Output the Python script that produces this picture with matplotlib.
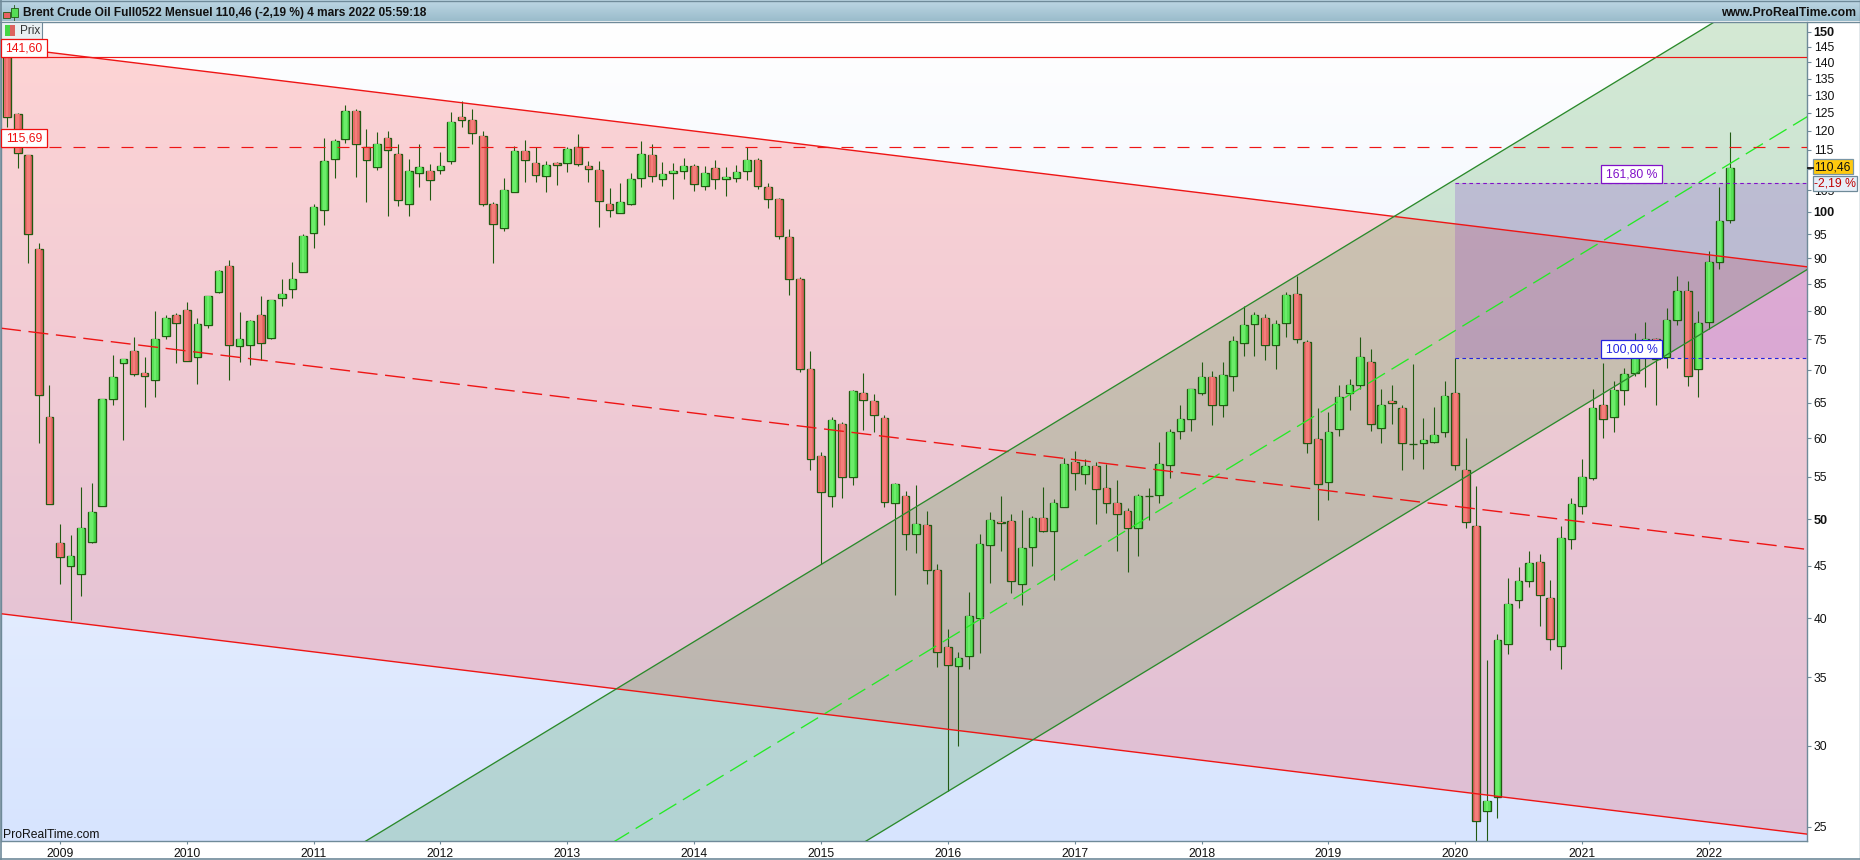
import numpy as np
import matplotlib
matplotlib.use('Agg')
import matplotlib.pyplot as plt
from matplotlib.patches import Polygon, Rectangle
from matplotlib.ticker import FixedLocator, FixedFormatter, NullLocator

plt.rcParams['font.family'] = ['Liberation Sans', 'DejaVu Sans']
plt.rcParams['lines.scale_dashes'] = False

# Monthly candles, first one is Aug 2008, last one Mar 2022
opens = [
    142, 124.6, 113.6, 92, 62.9, 47.4, 45, 44.2, 47.5, 51.5, 65.5, 71.1,
    73, 69.5, 68.4, 75.5, 79.3, 80.1, 72, 77.4, 83.5, 88.4, 73.8, 74,
    79.2, 75.3, 82.4, 84, 87.2, 95.4, 100.3, 112.6, 117.7, 125.4, 115.8, 110.5,
    118, 114, 101.7, 109, 109.5, 109.8, 112, 123.7, 123, 118.7, 101.8, 96.4,
    104.5, 114.6, 111.5, 108.4, 111.5, 111.5, 115.6, 110.8, 109.8, 101.7, 99.8, 101.8,
    107.8, 113.6, 107.6, 109, 109.5, 110.8, 105.9, 110.3, 107.6, 107.8, 109.5, 112.3,
    105.6, 103, 94.4, 85.9, 70.1, 57.7, 52.7, 62, 55, 66.5, 65.3, 62.8,
    51.9, 52.7, 48.4, 49.4, 44.6, 37.5, 35.9, 36.7, 40, 47.2, 49.7, 49.8,
    43.2, 47, 50.1, 48.7, 51.4, 56.9, 55.4, 56.4, 53.6, 51.8, 50.9, 49,
    52.7, 52.8, 56.5, 61, 62.7, 66.5, 68.9, 64.6, 69.1, 74.4, 77.6, 78.7,
    74.1, 77.8, 83, 74.6, 59.9, 54.4, 61.3, 66.5, 67.6, 71.3, 61.4, 65.2,
    64.3, 59.25, 59.4, 59.5, 60.8, 66.5, 55.8, 49.2, 25.9, 26.7, 37.7, 41.7,
    43.5, 45.4, 41.9, 37.6, 47.8, 51.5, 54.9, 64.7, 63, 66.9, 69.5, 72,
    75.1, 72, 78.4, 83.6, 70.1, 78, 89.3, 98.1,
]
highs = [
    143, 125, 113.6, 93.2, 67.7, 49.5, 48.2, 53.7, 54.2, 65.5, 72.4, 71.7,
    75.4, 72, 80, 79.2, 79.5, 81.5, 78.7, 82.7, 87.7, 89.6, 79.7, 78.4,
    82.7, 82, 85.9, 89.2, 95, 101.7, 118, 117.7, 127.2, 126, 120.6, 119.6,
    120, 116.4, 112.5, 116.4, 111.3, 114.3, 125.3, 128.4, 126, 120, 102.3, 108,
    116, 117.4, 115.8, 112, 111.8, 115.8, 119, 112, 112, 105.4, 106.6, 109,
    117.2, 116.4, 111.9, 111.6, 112.9, 111.3, 110.9, 112.3, 110.6, 111.1, 115.6, 112.8,
    106.6, 103.2, 96.1, 86.3, 73.1, 58.2, 63, 62.2, 66.9, 69.5, 66.3, 63.2,
    54.2, 53.3, 54, 50.9, 45.2, 39, 37.1, 42.4, 48.3, 50.8, 52.7, 50.6,
    51, 50.4, 53.7, 52.3, 57.4, 58.3, 57.3, 56.9, 56.6, 54.6, 51.3, 52.9,
    53.6, 59.5, 61.2, 64.7, 67.1, 71.3, 69.9, 71.2, 75.5, 80.9, 79.7, 79.4,
    78.4, 83.5, 86.5, 74.9, 64.2, 63.6, 67.6, 68.6, 75.4, 73.3, 67, 67.6,
    64.6, 71, 62.8, 64.4, 68.2, 71.9, 60, 53.9, 36.4, 38.6, 43.8, 44.9,
    46.5, 46.2, 43.6, 49.2, 52.4, 57.2, 67, 71.1, 68.3, 70.3, 76.1, 78,
    75.3, 80.5, 86.5, 85.5, 79.9, 91.5, 105.7, 119.8,
]
lows = [
    121.1, 110.4, 89, 59.4, 51.7, 43.2, 39.8, 42, 47.4, 51.5, 64.7, 59.7,
    69.1, 64.4, 65.8, 75.1, 71.1, 71.4, 67.8, 76.9, 83.3, 68.4, 71.3, 70.8,
    71.5, 75.1, 80.9, 82.4, 87.2, 92.2, 97, 108, 116.8, 108.2, 102.3, 109.9,
    99, 101.3, 99, 105.6, 102.7, 108.9, 111.3, 121, 116.5, 101.2, 89, 95.7,
    104.5, 107, 106.8, 104.6, 106.2, 109.4, 110.8, 106.8, 96.7, 98.7, 99.6, 101.6,
    105.6, 107, 106, 102.8, 107.7, 104.8, 105.1, 105.3, 103.7, 106.8, 107.4, 105.3,
    100.9, 94, 82.8, 69.7, 55.8, 45.2, 51.4, 52.5, 54, 61.1, 60.8, 51.4,
    42.1, 46.6, 46.3, 43.2, 35.8, 27.1, 30, 35.7, 37, 43.3, 46.5, 42.3,
    41.2, 45, 48.6, 43.6, 51.4, 53.4, 54.1, 49.5, 50.7, 46.5, 44.4, 46,
    49.9, 51.8, 54.9, 59.9, 61, 66.2, 61.8, 63, 66.8, 72.2, 72.2, 71.5,
    70.2, 75.4, 74.4, 58, 49.9, 52.2, 60.3, 63.9, 67, 61, 59.4, 62,
    55.8, 57.2, 56, 59.4, 60.2, 55.8, 49, 21.6, 21, 25.5, 36.9, 40.9,
    42.9, 39.3, 37.2, 35.7, 46.7, 50.6, 54.6, 60.1, 60.9, 64.6, 69, 67.3,
    64.7, 70.3, 77.5, 67.5, 65.8, 76.7, 87.8, 97.5,
]
closes = [
    123.9, 114.2, 95, 66.1, 51.7, 45.9, 46, 49, 50.8, 65.5, 68.9, 71.7,
    69.3, 69, 75.1, 78.6, 77.8, 71.4, 77.6, 82.7, 87.4, 74, 75, 78.1,
    74.4, 82, 83, 85.9, 94.7, 101, 112, 117.2, 125.6, 116.6, 112.3, 116.4,
    114.8, 102.6, 109.5, 110.5, 107.3, 110.8, 122.3, 123, 119.3, 101.8, 97.2, 104.9,
    114.6, 112.3, 108.6, 111, 111, 115.3, 111.3, 110, 102.4, 100.3, 102.3, 107.6,
    113.8, 108.3, 108.8, 109.5, 110.8, 106.4, 109, 107.6, 108.1, 109.3, 112.3, 105.9,
    103, 94.6, 85.9, 70.1, 57.3, 53.2, 62.5, 55, 66.7, 65.4, 63.3, 52,
    54.1, 48.4, 49.5, 44.6, 37.1, 36, 36.6, 40.2, 47.3, 49.9, 49.6, 43.5,
    46.8, 50.1, 48.7, 51.8, 56.6, 55.5, 56.4, 53.5, 51.9, 50.6, 49, 52.7,
    52.7, 56.6, 60.8, 62.7, 67, 68.9, 64.6, 69.2, 74.7, 77.5, 79.3, 74.1,
    77.6, 82.9, 75, 59.4, 54.1, 60.8, 65.9, 67.6, 72, 61.9, 64.7, 64.9,
    59.3, 59.2, 59.7, 60.5, 66, 56.5, 49.7, 25.3, 26.5, 38.1, 41.3, 43.5,
    45.3, 42.1, 38.2, 47.9, 51.7, 55, 64.2, 62.6, 66.9, 69.4, 73, 75.1,
    71.8, 78.4, 83.6, 69.1, 77.8, 89.3, 97.9, 110.46,
]

year_labels = list(range(2009, 2023))
year_index = [5 + 12 * k for k in range(len(year_labels))]
price_ticks = [25, 30, 35, 40, 45, 50, 55, 60, 65, 70, 75, 80, 85, 90, 95,
               100, 105, 110, 115, 120, 125, 130, 135, 140, 145, 150]
bold_ticks = [50, 100, 150]
hidden_ticks = [110]  # sits under the last price tag

# Drawn objects, as (bar index, price)
xmin, xmax = -0.577, 170.32
red_upper = [145.1, 88.3]
red_middle = [76.9, 46.7]
red_lower = [40.4, 24.58]
green_upper_x = [33.39, 170.32]
green_upper = [24.01, 174.2]
green_middle_x = [57.23, 170.32]
green_middle = [24.1, 123.9]
green_lower_x = [80.69, 170.32]
green_lower = [24.0, 87.8]
fibo_start = 137
fibo_100 = 71.85
fibo_161 = 106.6
level_high = 141.60
level_mid = 115.69

W, H = 1860, 860
LEFT, RIGHT, TOP, BOTTOM = 1, 1807.4, 21.7, 840.7
RED = '#ee1515'
GREEN = '#2b8a2b'
FRAME = '#6f8a99'
EDGE = '#215a12'


def pix_rect(l, t, r, b):
    return [l / W, 1 - b / H, (r - l) / W, (b - t) / H]


fig = plt.figure(figsize=(W / 100, H / 100), dpi=100, facecolor='white')

# plot background gradient sits in its own axes since the price axes is log
bg = fig.add_axes(pix_rect(LEFT, TOP, RIGHT, BOTTOM), zorder=0)
top_col = np.array([255, 255, 255]) / 255
bot_col = np.array([215, 228, 254]) / 255
grad = np.linspace(0, 1, 256)[:, None, None] * (bot_col - top_col) + top_col
bg.imshow(grad, aspect='auto', extent=(0, 1, 0, 1))
bg.axis('off')

ax = fig.add_axes(pix_rect(LEFT, TOP, RIGHT, BOTTOM), zorder=1, facecolor='none')
ax.set_yscale('log')
ax.set_xlim(xmin, xmax)
ax.set_ylim(24.22, 153.45)

# channels and fibonacci zone
ax.add_patch(Polygon([(xmin, red_upper[0]), (xmax, red_upper[1]),
                      (xmax, red_lower[1]), (xmin, red_lower[0])],
                     closed=True, facecolor=(1, 0, 0, 0.165), edgecolor='none', zorder=1))
ax.add_patch(Polygon([(green_upper_x[0], green_upper[0]), (green_upper_x[1], green_upper[1]),
                      (green_lower_x[1], green_lower[1]), (green_lower_x[0], green_lower[0])],
                     closed=True, facecolor=(0, 0.5, 0, 0.17), edgecolor='none', zorder=1))
ax.add_patch(Rectangle((fibo_start, fibo_100), xmax - fibo_start, fibo_161 - fibo_100,
                       facecolor=(0.5, 0.12, 0.82, 0.2), edgecolor='none', zorder=1))

# candles
idx = np.arange(len(opens))
o = np.array(opens)
c = np.array(closes)
up = c >= o
ax.vlines(idx, lows, highs, color=EDGE, linewidth=0.8, zorder=2)
body_low = np.minimum(o, c)
body_h = np.abs(c - o)
ax.bar(idx[up], body_h[up], bottom=body_low[up], width=0.73, color='#45d645',
       edgecolor=EDGE, linewidth=0.95, zorder=3)
ax.bar(idx[~up], body_h[~up], bottom=body_low[~up], width=0.73, color='#dc6260',
       edgecolor=EDGE, linewidth=0.95, zorder=3)
# lighter core of the bodies
for w, col_up, col_dn in [(0.5, '#58e058', '#e86c6a'), (0.26, '#6cec6a', '#f47e7a')]:
    ax.bar(idx[up], body_h[up], bottom=body_low[up], width=w, color=col_up, linewidth=0, zorder=3.1)
    ax.bar(idx[~up], body_h[~up], bottom=body_low[~up], width=w, color=col_dn, linewidth=0, zorder=3.1)

# lines above the candles
ax.plot([xmin, xmax], red_upper, color=RED, lw=1.0, zorder=4)
ax.plot([xmin, xmax], red_lower, color=RED, lw=1.0, zorder=4)
ax.plot([xmin, xmax], red_middle, color=RED, lw=1.0, ls=(0, (14.4, 5.5)), zorder=4)
ax.plot(green_upper_x, green_upper, color=GREEN, lw=0.95, zorder=4)
ax.plot(green_lower_x, green_lower, color=GREEN, lw=0.95, zorder=4)
ax.plot(green_middle_x, green_middle, color='#25ea25', lw=0.95, ls=(0, (14.4, 5.5)), zorder=4)
ax.plot([xmin, xmax], [level_high, level_high], color=RED, lw=0.85, zorder=4)
ax.plot([xmin, xmax], [level_mid, level_mid], color=RED, lw=0.85, ls=(0, (8.64, 8.64)), zorder=4)
ax.plot([fibo_start, xmax], [fibo_100, fibo_100], color='#2323e0', lw=0.8, ls=(0, (2.6, 2.4)), zorder=4)
ax.plot([fibo_start, xmax], [fibo_161, fibo_161], color='#8010c8', lw=0.8, ls=(0, (2.6, 2.4)), zorder=4)

# axes
ax.spines['top'].set_visible(False)
for side in ['left', 'right', 'bottom']:
    ax.spines[side].set_color(FRAME)
    ax.spines[side].set_linewidth(1.0)
ax.yaxis.tick_right()
ax.yaxis.set_major_locator(FixedLocator(price_ticks))
ax.yaxis.set_major_formatter(FixedFormatter(['' if t in hidden_ticks else str(t) for t in price_ticks]))
ax.yaxis.set_minor_locator(NullLocator())
ax.tick_params(axis='y', length=3, width=0.8, color=FRAME, pad=1.5, labelsize=8.7, labelcolor='#111111')
ax.set_xticks(year_index)
ax.set_xticklabels([str(y) for y in year_labels])
ax.tick_params(axis='x', length=2, width=0.8, color=FRAME, pad=3.2, labelsize=8.7, labelcolor='#111111')
for lab, t in zip(ax.get_yticklabels(), price_ticks):
    if t in bold_ticks:
        lab.set_fontweight('bold')
        lab.set_fontsize(9.2)

# window furniture, in pixels
ui = fig.add_axes([0, 0, 1, 1], zorder=2, facecolor='none')
head_top = np.array([190, 215, 229]) / 255
head_bot = np.array([154, 188, 203]) / 255
head = np.linspace(0, 1, 32)[:, None, None] * (head_bot - head_top) + head_top
ui.imshow(head, aspect='auto', extent=(0, W, 21, 0.5), zorder=1)
ui.set_xlim(0, W)
ui.set_ylim(H, 0)
ui.axis('off')
ui.plot([0, W], [0.5, 0.5], color=FRAME, lw=1)
ui.plot([0, W], [21.5, 21.5], color=FRAME, lw=1)
ui.plot([0.5, 0.5], [0, H], color=FRAME, lw=1.2)
ui.plot([0, W], [859, 859], color=FRAME, lw=1.2)
ui.plot([W - 0.5, W - 0.5], [0, H], color=FRAME, lw=1)

ui.add_patch(Rectangle((3, 11.5), 6.5, 6, fc='#e86060', ec='#215a12', lw=0.6, zorder=3))
ui.add_patch(Rectangle((11, 7.5), 6.5, 9.5, fc='#55dd55', ec='#215a12', lw=0.6, zorder=3))
ui.plot([14.3, 14.3], [4.5, 19.5], color='#215a12', lw=0.6, zorder=2)
ui.text(23, 12.6, 'Brent Crude Oil Full0522 Mensuel 110,46 (-2,19 %) 4 mars 2022 05:59:18',
        fontsize=8.6, fontweight='bold', color='#111111', ha='left', va='center', zorder=3)
ui.text(1856, 12.6, 'www.ProRealTime.com', fontsize=8.8, fontweight='bold', color='#111111',
        ha='right', va='center', zorder=3)

# Prix tab
ui.add_patch(Rectangle((1, 22), 41, 17, fc='#e9eff2', ec=FRAME, lw=0.8, zorder=5))
ui.add_patch(Rectangle((5, 25), 5, 11, fc='#45d645', ec='none', zorder=6))
ui.add_patch(Rectangle((10, 25), 5, 11, fc='#dc6260', ec='none', zorder=6))
ui.text(19.5, 30.8, 'Prix', fontsize=8.5, color='#333333', ha='left', va='center', zorder=6)


def tag(l, t, r, b, text, edge, fc='white', color=None, ha='center'):
    ui.add_patch(Rectangle((l, t), r - l, b - t, fc=fc, ec=edge, lw=0.9, zorder=5))
    ui.text((l + r) / 2, (t + b) / 2 + 0.4, text, fontsize=8.8, color=color or edge,
            ha=ha, va='center', zorder=6)


tag(1, 39.3, 46.7, 57.3, '141,60', '#f01010')
tag(1, 129.3, 46.7, 147.3, '115,69', '#f01010')
tag(1601.4, 165.3, 1661.5, 183.3, '161,80 %', '#8010c8')
tag(1601.4, 340.3, 1661.5, 358.3, '100,00 %', '#2323e0')
tag(1812.7, 159.3, 1852.7, 174, '110,46', '#7a96a6', fc='#ffc90e', color='#111111')
tag(1812.7, 176, 1857.3, 190.7, '-2,19 %', '#6f8a99', fc='#e6eef8', color='#c00000')
ui.plot([1808, 1812.5], [168, 168], color='#111111', lw=1.3, zorder=5)

ui.text(2.8, 834.5, 'ProRealTime.com', fontsize=8.7, color='#111111', ha='left', va='center', zorder=6)

fig.savefig('out.png', dpi=100)
